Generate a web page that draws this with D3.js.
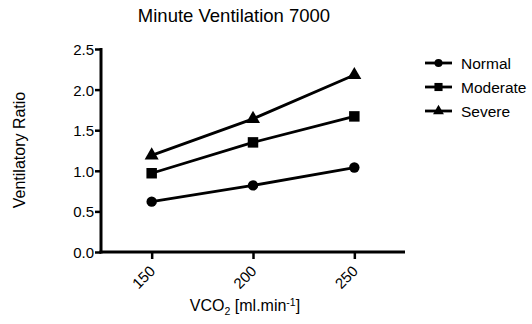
<!DOCTYPE html>
<html lang="en">
<head>
<meta charset="UTF-8">
<title>Minute Ventilation 7000</title>
<script src="https://d3js.org/d3.v7.min.js"></script>
<style>
  body { margin: 0; background: #fff; }
  svg, svg text { font-family: "Liberation Sans", Arial, sans-serif; }
</style>
</head>
<body>
<svg id="chart" width="532" height="324"></svg>
<script>
// data
const xValues = [150, 200, 250];
const seriesNames = ["Normal", "Moderate", "Severe"];
const normal = [0.62, 0.82, 1.04];
const moderate = [0.97, 1.35, 1.67];
const severe = [1.19, 1.64, 2.18];
const yTicks = [0.0, 0.5, 1.0, 1.5, 2.0, 2.5];

const series = [
  { name: seriesNames[0], values: normal, shape: d3.symbolCircle, size: 85 },
  { name: seriesNames[1], values: moderate, shape: d3.symbolSquare, size: 110 },
  { name: seriesNames[2], values: severe, shape: d3.symbolTriangle, size: 85 }
];

const svg = d3.select("#chart");

const x = d3.scaleLinear().domain([125, 275]).range([101, 405]);
const y = d3.scaleLinear().domain([0, 2.5]).range([252, 49]);

// title
svg.append("text")
   .attr("x", 234).attr("y", 22)
   .attr("text-anchor", "middle")
   .attr("font-size", 18.5)
   .text("Minute Ventilation 7000");

// axes
const yAxis = svg.append("g")
   .attr("transform", "translate(101,0)")
   .call(d3.axisLeft(y).tickValues(yTicks).tickFormat(d3.format(".1f")).tickSize(6).tickSizeOuter(0));

const xAxis = svg.append("g")
   .attr("transform", "translate(0,252)")
   .call(d3.axisBottom(x).tickValues(xValues).tickSize(7).tickSizeOuter(0));

[xAxis, yAxis].forEach(a => {
  a.select(".domain").attr("stroke", "#000").attr("stroke-width", 3);
  a.selectAll(".tick line").attr("stroke", "#000").attr("stroke-width", 2.5);
  a.selectAll("text").attr("font-size", 15).attr("fill", "#000")
   .attr("font-family", "'Liberation Sans', Arial, sans-serif");
});
yAxis.selectAll("text").attr("x", -7).attr("dy", "0.36em");
// extend domain past origin a bit like the original
xAxis.select(".domain").attr("d", "M99.5,0H405");
yAxis.select(".domain").attr("d", "M0,48V253.5");

xAxis.selectAll("text")
   .attr("text-anchor", "end")
   .attr("dy", 0)
   .attr("y", 0)
   .attr("transform", "translate(4,20) rotate(-45)");

// axis labels
svg.append("text")
   .attr("transform", "translate(25,150) rotate(-90)")
   .attr("text-anchor", "middle")
   .attr("font-size", 16)
   .text("Ventilatory Ratio");

const xl = svg.append("text")
   .attr("x", 245).attr("y", 311)
   .attr("text-anchor", "middle")
   .attr("font-size", 16);
xl.append("tspan").text("VCO");
xl.append("tspan").attr("font-size", 10.5).attr("dy", 4).text("2");
xl.append("tspan").attr("dy", -4).text(" [ml.min");
xl.append("tspan").attr("font-size", 10.5).attr("dy", -5).text("-1");
xl.append("tspan").attr("dy", 5).text("]");

// lines and markers
const line = d3.line().x((d, i) => x(xValues[i])).y(d => y(d));

series.forEach(s => {
  svg.append("path")
     .attr("d", line(s.values))
     .attr("fill", "none")
     .attr("stroke", "#000")
     .attr("stroke-width", 2.8);
  svg.selectAll(null)
     .data(s.values)
     .enter().append("path")
     .attr("d", d3.symbol().type(s.shape).size(s.size))
     .attr("transform", (d, i) => `translate(${x(xValues[i])},${y(d)})`)
     .attr("fill", "#000");
});

// legend
const legend = svg.append("g").attr("transform", "translate(425,63)");
series.forEach((s, i) => {
  const g = legend.append("g").attr("transform", `translate(0,${i * 24})`);
  g.append("line").attr("x1", 0).attr("x2", 27).attr("y1", 0).attr("y2", 0)
   .attr("stroke", "#000").attr("stroke-width", 2.8);
  g.append("path").attr("d", d3.symbol().type(s.shape).size(s.size * 0.6))
   .attr("transform", "translate(13.5,0)").attr("fill", "#000");
  g.append("text").attr("x", 36).attr("y", 0).attr("dy", "0.36em")
   .attr("font-size", 15.5).text(s.name);
});
</script>
</body>
</html>
